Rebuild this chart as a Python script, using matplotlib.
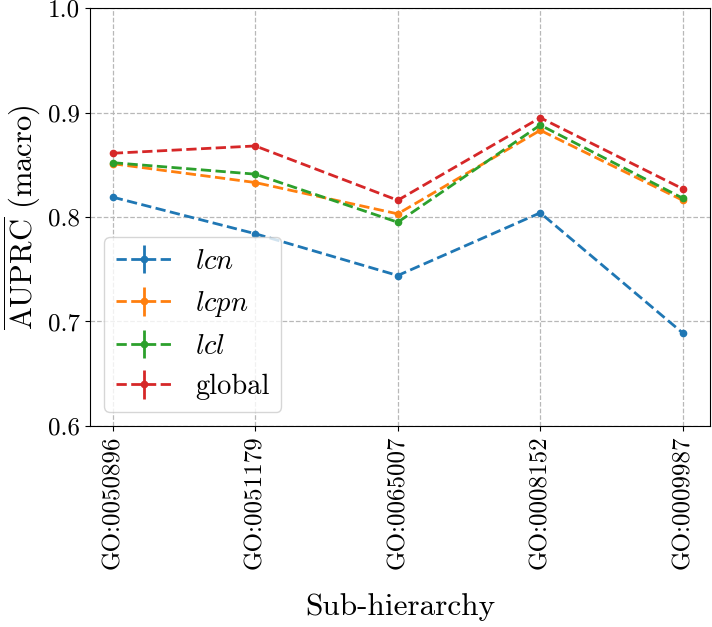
import numpy as np
import matplotlib
matplotlib.use("Agg")
import matplotlib.pyplot as plt

plt.rcParams["font.family"] = "serif"
plt.rcParams["font.serif"] = ["cmr10"]
plt.rcParams["mathtext.fontset"] = "cm"
plt.rcParams["axes.formatter.use_mathtext"] = True

# Data
subhierarchies = ["GO:0050896", "GO:0051179", "GO:0065007", "GO:0008152", "GO:0009987"]
lcn = [0.819, 0.784, 0.744, 0.804, 0.689]
lcpn = [0.851, 0.833, 0.803, 0.883, 0.816]
lcl = [0.852, 0.841, 0.795, 0.888, 0.818]
global_ = [0.861, 0.868, 0.816, 0.895, 0.827]
err = [0.0, 0.0, 0.0, 0.0, 0.0]

series = [
    (r"$lcn$", lcn, "#1f77b4"),
    (r"$lcpn$", lcpn, "#ff7f0e"),
    (r"$lcl$", lcl, "#2ca02c"),
    ("global", global_, "#d62728"),
]

fig = plt.figure(figsize=(7.12, 6.27), dpi=100)
ax = fig.add_axes([0.1264, 0.3206, 0.8705, 0.6666])

x = np.arange(len(subhierarchies))
for label, vals, color in series:
    ax.errorbar(x, vals, yerr=err, fmt="o--", color=color, markersize=4.5,
                linewidth=2.0, label=label)

ax.set_ylim(0.6, 1.0)
ax.set_xlim(-0.16, 4.19)
ax.set_yticks([0.6, 0.7, 0.8, 0.9, 1.0])
ax.set_yticklabels(["0.6", "0.7", "0.8", "0.9", "1.0"])
ax.set_xticks(x)
ax.set_xticklabels(subhierarchies, rotation=90)
ax.tick_params(labelsize=18)
ax.grid(True, linestyle="--", color="#b8b8b8", linewidth=0.9)

ax.set_xlabel("Sub-hierarchy", fontsize=22.5, labelpad=17)
ax.set_ylabel(r"$\overline{\mathrm{AUPRC}}$ (macro)", fontsize=22)
ax.legend(loc="lower left", fontsize=20.5, handlelength=2.0)

fig.savefig("out.png", dpi=100)
